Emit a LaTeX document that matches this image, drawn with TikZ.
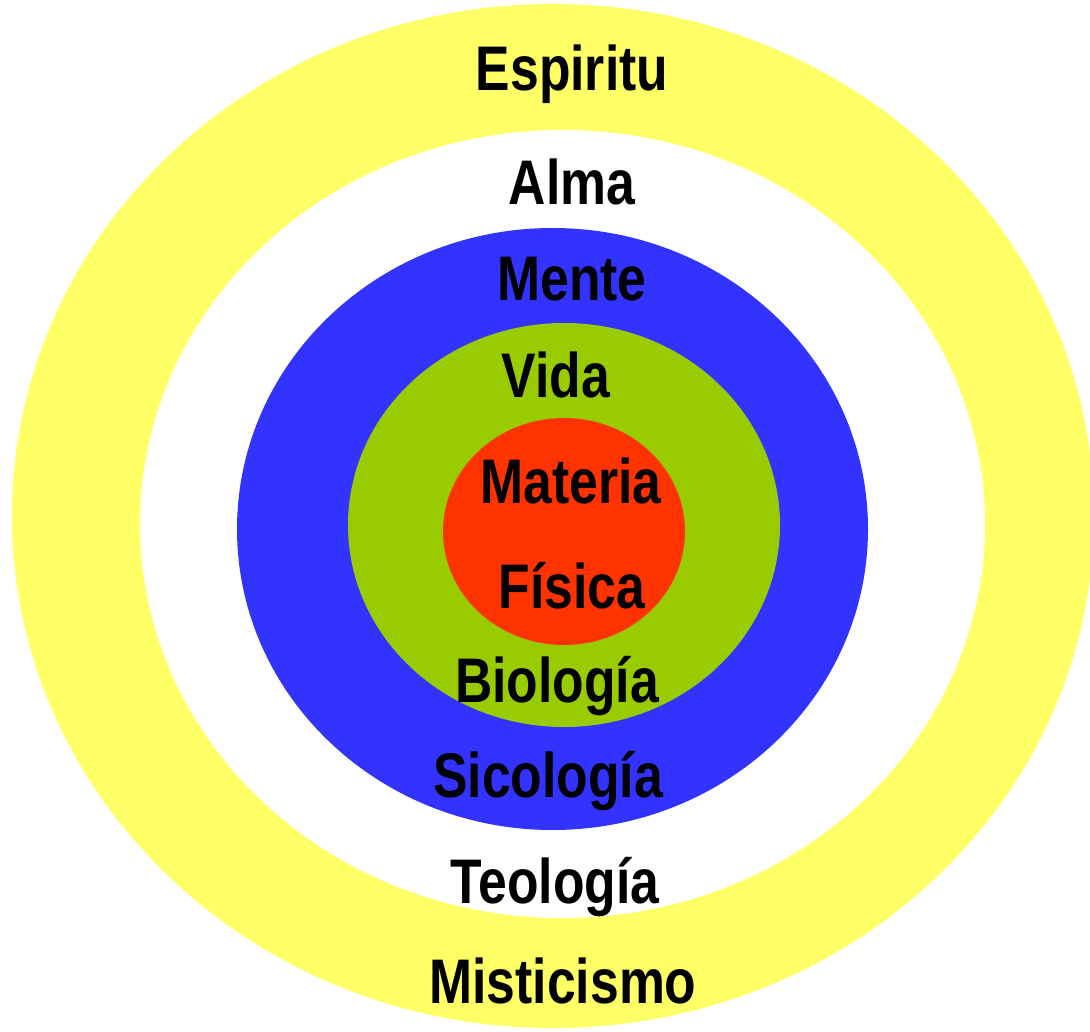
\documentclass[tikz,border=0pt]{standalone}
\usepackage{fontspec}
\setmainfont{Liberation Sans}[FakeStretch=0.82]
\definecolor{cyel}{HTML}{FFFF66}
\definecolor{cblue}{HTML}{3333FF}
\definecolor{cgreen}{HTML}{99CC00}
\definecolor{cred}{HTML}{FF3300}
\begin{document}
\begin{tikzpicture}[x=1pt,y=-1pt,
  lbl/.style={anchor=base,inner sep=0pt,font=\fontsize{63}{70}\selectfont\bfseries,text=black}]
\useasboundingbox (0,0) rectangle (1090,1032);
\clip (0,0) rectangle (1090,1032);
\fill[cyel] (553,516) ellipse [x radius=541,y radius=512];
\fill[white] (562.5,524) ellipse [x radius=422.5,y radius=394];
\fill[cblue] (552.5,529) ellipse [x radius=315.5,y radius=301];
\fill[cgreen] (564,525) ellipse [x radius=216,y radius=202];
\fill[cred] (564,531.5) ellipse [x radius=121,y radius=113.5];
\node[lbl] (espiritu) at (572,91) {Espiritu};
\node[lbl] (alma) at (572,205) {Alma};
\node[lbl] (mente) at (572,301) {Mente};
\node[lbl] (vida) at (556,397) {Vida};
\node[lbl] (materia) at (571,503) {Materia};
\node[lbl] (fisica) at (572,608) {Física};
\node[lbl] (biologia) at (557,702) {Biología};
\node[lbl] (sicologia) at (548,797) {Sicología};
\node[lbl] (teologia) at (555,903) {Teología};
\node[lbl] (misticismo) at (563,1003) {Misticismo};
\end{tikzpicture}
\end{document}
